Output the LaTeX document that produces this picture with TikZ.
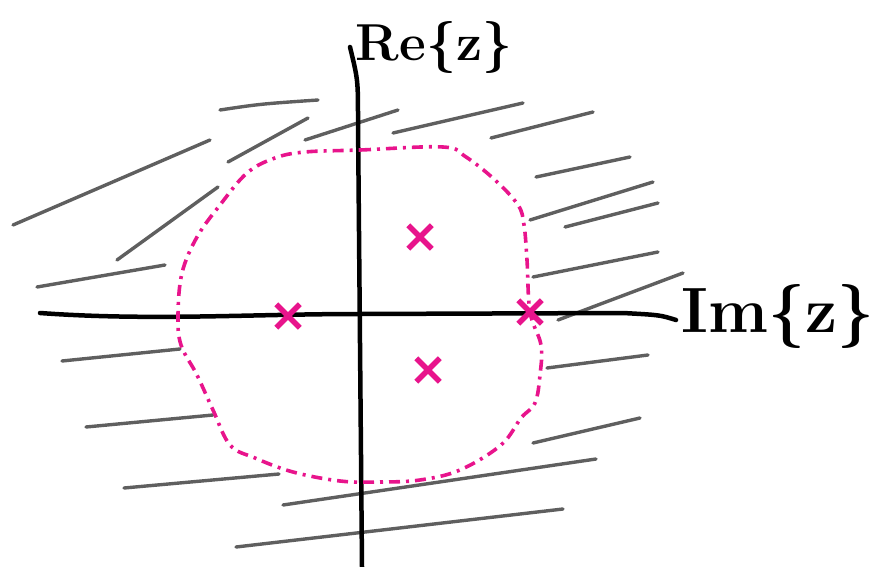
\documentclass[tikz,border=0pt]{standalone}
\usepackage{tikz}
\usetikzlibrary{shapes.misc, positioning}
\definecolor{polepink}{RGB}{232,20,140}
\definecolor{hatchgray}{RGB}{95,95,95}

\begin{document}
\begin{tikzpicture}[
    x=1pt, y=-1pt,
    axis/.style={draw=black, line width=4.5pt, line cap=round},
    hatch/.style={draw=hatchgray, line width=3.4pt, line cap=round},
    contour/.style={draw=polepink, line width=3.6pt,
      dash pattern=on 11pt off 6pt on 3pt off 6pt},
    pole/.style={cross out, draw=polepink, line width=5.5pt,
      minimum size=18pt, inner sep=0pt},
    lbl/.style={inner sep=0pt, text=black}
  ]
  \useasboundingbox (0,0) rectangle (886,567);

  % hatching outside the contour
  \draw[hatch] (220,110) .. controls (260,104) .. (318,100);
  \draw[hatch] (228,162) -- (308,118);
  \draw[hatch] (305,140) -- (398,110);
  \draw[hatch] (393,133) -- (523,103);
  \draw[hatch] (13,225) -- (210,140);
  \draw[hatch] (117,260) -- (218,187);
  \draw[hatch] (37,287) -- (165,265);
  \draw[hatch] (491,138) -- (593,112);
  \draw[hatch] (536,177) -- (630,157);
  \draw[hatch] (530,220) -- (653,182);
  \draw[hatch] (565,227) -- (658,203);
  \draw[hatch] (533,277) -- (658,252);
  \draw[hatch] (558,320) -- (683,273);
  \draw[hatch] (62,361) -- (180,349);
  \draw[hatch] (86,427) -- (213,415);
  \draw[hatch] (124,488) -- (279,474);
  \draw[hatch] (283,505) -- (596,459);
  \draw[hatch] (236,547) -- (563,509);
  \draw[hatch] (547,368) -- (648,355);
  \draw[hatch] (533,443) -- (640,418);

  % axes
  \draw[axis] (40,313) .. controls (150,321) and (250,314) .. (360,314)
              -- (623,313) .. controls (660,315) .. (676,320);
  \draw[axis] (350,47) .. controls (358,80) .. (358,120) -- (362,567);

  % contour
  \draw[contour] plot[smooth cycle, tension=0.6] coordinates {
    (305,152) (360,150) (443,147) (466,157) (495,180) (518,205)
    (524,225) (527,260) (530,312) (541,345) (540,375) (535,403)
    (521,418) (501,445) (460,470) (420,480) (380,482) (340,481)
    (293,472) (255,458) (230,445) (213,410) (197,375) (181,345)
    (178,315) (182,273) (197,237) (220,205) (247,173) (275,158)};

  % poles
  \node[pole] (p1) at (288,316) {};
  \node[pole] (p2) at (420,237) {};
  \node[pole] (p3) at (530,312) {};
  \node[pole] (p4) at (428,370) {};

  % labels
  \node[lbl, font=\fontsize{52}{60}\selectfont\bfseries] (re) at (434,48) {Re\{z\}};
  \node[lbl, font=\fontsize{64}{72}\selectfont\bfseries] (im) at (778,316) {Im\{z\}};
\end{tikzpicture}
\end{document}
